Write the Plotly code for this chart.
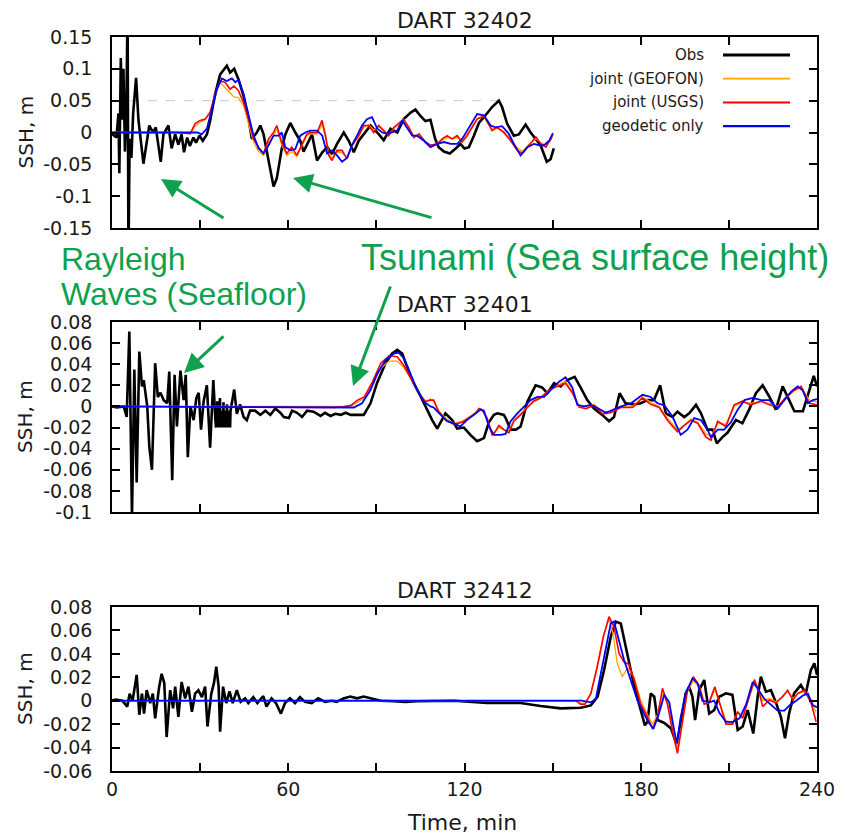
import plotly.graph_objects as go

# ---------------- DATA ----------------
# Panel 1: DART 32402
p1_obs_t = [0, 1.5, 2.2, 2.5, 3.0, 3.5, 3.9, 4.4, 4.9, 5.3, 5.6, 6.0, 6.6, 7.2, 8.2, 9.0, 10.7, 12.7, 14.0, 14.9,
            16.6, 17.5, 19.2, 20.3, 21.5, 22.6, 23.7, 24.5, 25.6, 26.5, 27.7, 28.6, 29.8, 30.9, 32.3, 33.4, 35.1,
            36.8, 39.1, 40.2, 41.6, 43.1, 44.8, 46.5, 47.6, 49.3, 50.5, 51.6, 53.3, 55.0, 56.1, 57.8, 59.0, 60.7,
            62.4, 64.1, 65.2, 66.9, 68.1, 69.8, 71.6, 73.3, 74.9, 76.6, 78.9, 80.6, 82.3, 84.0, 85.7, 88.0, 90.3,
            92.5, 94.8, 97.1, 99.3, 101.6, 103.3, 105.0, 106.7, 108.4, 110.0, 111.2, 113.0, 115.0, 117.0, 118.6,
            120.0, 121.5, 123.2, 124.9, 126.6, 128.3, 129.4, 131.7, 132.8, 134.5, 136.8, 138.5, 140.8, 142.5,
            144.2, 145.9, 148.0, 149.3, 150.4]
p1_obs_v = [-0.002, -0.008, 0.03, -0.064, 0.117, 0.02, 0.1, -0.03, 0.04, 0.2, -0.2, -0.01, -0.04, 0.03, 0.086, 0.02,
            -0.049, 0.011, 0.0, 0.008, -0.046, -0.003, 0.011, -0.025, -0.003, -0.019, -0.003, -0.031, -0.008, -0.021,
            -0.008, -0.016, -0.005, -0.013, -0.003, 0.018, 0.06, 0.091, 0.105, 0.094, 0.1, 0.083, 0.057, 0.021, -0.01,
            0.0, 0.011, -0.003, -0.044, -0.085, -0.072, -0.025, -0.003, 0.015, 0.0, -0.013, -0.03, -0.013, -0.003,
            -0.044, -0.031, -0.023, -0.034, -0.018, 0.0, -0.013, -0.031, -0.013, -0.003, 0.011, 0.0, -0.012, 0.006,
            0.0, 0.021, 0.031, 0.036, 0.026, 0.018, 0.02, -0.01, -0.023, -0.03, -0.033, -0.025, -0.018, -0.025,
            -0.023, -0.005, 0.015, 0.024, 0.034, 0.04, 0.05, 0.04, 0.014, -0.005, -0.003, 0.0125, 0.0, -0.01, -0.02,
            -0.046, -0.042, -0.025]

p1_geo_t = [0, 24, 26.6, 28.3, 30, 31.7, 33.4, 35.1, 36.8, 38.5, 40.2, 41.5, 43, 44.8, 46.5, 48.2, 49.9, 51.6, 53.3,
            55, 56.1, 57.8, 59.5, 61.2, 62.9, 64.6, 66.3, 67.5, 69.8, 71.5, 72.7, 73.8, 74.9, 76.6, 78.3, 80, 81.7,
            84, 85.7, 87.4, 89.1, 90.8, 92.5, 94.2, 95.9, 97.6, 99.3, 101, 102.8, 104.5, 106.7, 108.4, 110.7, 112.4,
            114.1, 115.8, 117.5, 119.2, 120.9, 122.6, 124.3, 126.6, 127.7, 129.4, 131.1, 133.4, 135.7, 138, 139.7,
            142, 144.3, 146, 147.7, 149.4, 150.1]
p1_geo_v = [0, 0, -0.002, 0.01, 0.016, 0.02, 0.03, 0.058, 0.079, 0.07, 0.062, 0.056, 0.055, 0.042, 0.015, -0.015,
            -0.03, -0.036, -0.015, -0.005, 0.005, -0.02, -0.036, -0.03, -0.038, -0.022, -0.005, -0.002, -0.002, 0.012,
            -0.008, -0.032, -0.04, -0.03, -0.032, -0.04, -0.022, -0.006, 0.008, 0.012, 0.004, 0.009, 0.002, -0.004,
            0.006, 0.012, 0.018, 0.01, -0.006, -0.004, -0.014, -0.02, -0.017, -0.012, -0.008, -0.01, -0.008, -0.013,
            -0.003, 0.01, 0.022, 0.025, 0.018, 0.006, 0.007, 0.002, -0.01, -0.024, -0.03, -0.018, -0.01, -0.016,
            -0.02, -0.012, -0.004]

p1_usgs_t = [0, 22, 26.6, 28.3, 30, 31.7, 33.4, 35.1, 36.8, 38.5, 40.2, 41.5, 43, 44.8, 46.5, 48.2, 49.9, 51.6, 53.3,
             55, 56.1, 57.8, 59.5, 61.2, 62.9, 64.6, 66.3, 67.5, 69.8, 71.5, 72.7, 73.8, 74.9, 76.6, 78.3, 80, 81.7,
             84, 85.7, 87.4, 89.1, 90.8, 92.5, 94.2, 95.9, 97.6, 99.3, 101, 102.8, 104.5, 106.7, 108.4, 110.7, 112.4,
             114.1, 115.8, 117.5, 119.2, 120.9, 122.6, 124.3, 126.6, 127.7, 129.4, 131.1, 133.4, 135.7, 138, 139.7,
             142, 144.3, 146, 147.7, 149.4, 150.1]
p1_usgs_v = [0, 0, -0.002, 0.014, 0.019, 0.021, 0.032, 0.06, 0.081, 0.079, 0.068, 0.073, 0.066, 0.047, 0.021, -0.01,
             -0.023, -0.033, -0.01, 0.0, 0.011, -0.016, -0.033, -0.023, -0.036, -0.02, -0.003, 0.0, 0.0, 0.019,
             -0.005, -0.036, -0.044, -0.028, -0.028, -0.041, -0.02, -0.005, 0.011, 0.011, 0.0, 0.011, 0.003, -0.005,
             0.008, 0.014, 0.021, 0.008, -0.008, -0.002, -0.015, -0.02, -0.018, -0.01, -0.005, -0.01, -0.005, -0.015,
             -0.005, 0.008, 0.021, 0.026, 0.016, 0.003, 0.008, 0.0, -0.013, -0.028, -0.033, -0.02, -0.007, -0.018,
             -0.023, -0.01, -0.002]

p1_geod_t = [0, 29, 30.5, 32.3, 34, 35.7, 37.4, 39.1, 40.8, 42, 43.1, 44.8, 46.5, 48.2, 49.9, 51.6, 53.3, 55, 56.7,
             57.8, 59, 60.7, 62.4, 64.1, 65.8, 67.5, 69.8, 71.6, 73.2, 74.9, 76.6, 78.3, 80, 81.7, 83.4, 85.1, 86.8,
             88.5, 90.3, 92, 93.7, 95.4, 97.1, 98.8, 100.5, 102.2, 103.9, 106.2, 108.4, 110.7, 113, 115.3, 117.5,
             119.2, 120.9, 122.6, 124.3, 126.6, 128.9, 130.6, 132.8, 135.1, 136.8, 139.1, 141.4, 143.6, 145.4, 147.1,
             148.8, 150.1]
p1_geod_v = [0, 0, -0.003, 0.006, 0.037, 0.068, 0.085, 0.081, 0.085, 0.079, 0.083, 0.06, 0.027, -0.005, -0.025,
             -0.033, -0.02, -0.005, -0.005, 0.0, -0.023, -0.028, -0.026, -0.005, 0.0, 0.003, 0.003, -0.005, -0.033,
             -0.028, -0.036, -0.046, -0.04, -0.02, -0.005, 0.011, 0.021, 0.024, 0.006, 0.0, -0.002, 0.0, 0.003, 0.019,
             0.008, -0.005, -0.005, -0.013, -0.023, -0.018, -0.015, -0.018, -0.018, -0.01, 0.003, 0.016, 0.029, 0.027,
             0.011, 0.008, 0.01, -0.002, -0.018, -0.036, -0.023, -0.018, -0.02, -0.02, -0.013, -0.001]

# Panel 2: DART 32401
p2_obs_t = [0, 1.7, 4.0, 5.0, 5.9, 6.8, 7.6, 8.4, 9.3, 10.2, 10.8, 12.0, 12.7, 13.6, 14.7, 15.6, 16.5, 17.6, 18.8,
            19.5, 20.5, 21.3, 22.1, 23.3, 24.4, 25.1, 25.8, 26.7, 27.8, 28.7, 29.5, 30.3, 31.2, 32.3, 33.4, 34.5,
            35.2, 35.4, 35.55, 35.7, 35.85, 36.0, 36.15, 36.3, 36.45, 36.6, 36.75, 36.9, 37.05, 37.2, 37.35, 37.5,
            37.65, 37.8, 37.95, 38.1, 38.25, 38.4, 38.55, 38.7, 38.85, 39.0, 39.15, 39.3, 39.45, 39.6, 39.75, 39.9,
            40.05, 40.2, 40.35,
            41.6, 42.5, 43.6, 44.8, 45.9, 47.0, 48.7, 50.5, 52.2, 53.9, 55.6, 57.3, 58.5, 60.2, 61.3, 63.0, 64.7,
            66.4, 68.6, 71.0, 72.5, 74.4, 76.0, 77.9, 79.5, 81.3, 83.5, 85.7, 88.0, 90.2, 93.1, 95.3, 97.1, 98.8,
            100.4, 102.7, 105.0, 107.3, 109.0, 110.7, 112.4, 113.5, 115.8, 117.5, 119.8, 122.0, 124.3, 126.6, 128.3,
            130.0, 131.2, 133.4, 134.0, 135.7, 137.5, 139.1, 141.4, 144.2, 146.4, 148.2, 150.5, 152.7, 155.0, 157.5,
            159.5, 161.8, 164.1, 166.9, 169.2, 170.9, 172.8, 174.8, 177.7, 180.0, 182.3, 184.5, 186.6, 188.5, 190.8,
            192.5, 194.8, 196.5, 198.8, 200.5, 202.7, 204.4, 205.9, 207.8, 209.5, 212.4, 214.6, 216.9, 219.2, 221.5,
            223.8, 226.0, 228.3, 230.0, 232.3, 235.2, 237.4, 238.9, 240.0]
p2_obs_v = [0.0, -0.001, 0.0, -0.01, 0.071, -0.105, 0.035, -0.072, 0.052, 0.019, 0.025, 0.0, -0.038, -0.06, 0.041,
            0.009, 0.013, 0.006, 0.003, 0.033, -0.07, 0.03, -0.019, 0.034, 0.006, 0.03, -0.048, 0.0, -0.013, 0.008,
            0.013, -0.022, 0.005, 0.02, -0.039, 0.025, -0.013,
            -0.02, -0.004, -0.02, 0.005, -0.02, -0.004, -0.02, -0.004, -0.02, 0.008, -0.02, -0.004, -0.02, -0.004,
            -0.02, -0.004, -0.02, 0.004, -0.02, -0.004, -0.02, -0.004, -0.02, -0.004, -0.02, 0.002, -0.02, -0.004,
            -0.02, -0.004, -0.02, -0.004, -0.02, -0.004,
            0.016, -0.007, 0.002, -0.01, -0.013,
            -0.004, -0.004, -0.008, -0.004, -0.008, -0.002, -0.006, -0.01, -0.011, -0.004, -0.006, -0.01, -0.004,
            -0.005, -0.009, -0.006, -0.009, -0.007, -0.008, -0.006, -0.008, -0.008, -0.008, 0.003, 0.022, 0.041, 0.05,
            0.0535, 0.05, 0.038, 0.022, 0.01, -0.003, -0.013, -0.021, -0.013, -0.0065, -0.013, -0.021, -0.02, -0.027,
            -0.033, -0.03, -0.015, -0.008, -0.0065, -0.008, -0.011, -0.022, -0.022, -0.019, 0.0045, 0.02, 0.018,
            0.0125, 0.022, 0.019, 0.025, 0.028, 0.018, 0.006, -0.002, -0.008, -0.014, -0.01, 0.0125, 0.003, 0.002,
            0.003, 0.006, 0.006, 0.02, -0.0065, -0.01, -0.005, -0.01, -0.0065, 0.0015, -0.0065, -0.022, -0.022,
            -0.035, -0.029, -0.025, -0.0128, -0.016, -0.003, 0.0125, 0.02, 0.009, -0.003, 0.019, 0.009, -0.0045,
            -0.0045, 0.0156, 0.029, 0.019]

p2_geo_t = [0, 78, 81.3, 83.6, 85.9, 88.7, 91.5, 94.3, 97.1, 99.3, 101.6, 104.4, 106.7, 108.4, 109.5, 111.2, 113.5,
            116.4, 119.2, 121.5, 123.7, 124.9, 126, 127.7, 129.4, 130, 131.7, 133.4, 135.1, 136.8, 139.1, 141.4,
            143.6, 145.9, 148.7, 151.6, 154.4, 156.7, 159, 161.3, 164.1, 166.9, 169.8, 173.2, 177.2, 180.6, 183.4,
            186.3, 189.1, 192.5, 194.8, 197.1, 199.4, 202.2, 203.9, 206.2, 209, 211.8, 214.6, 217.5, 221, 223.8,
            226.6, 229.5, 232.3, 234.6, 237.4, 240]
p2_geo_v = [0, 0.0, 0.0, 0.004, 0.008, 0.02, 0.036, 0.043, 0.043, 0.037, 0.027, 0.013, 0.005, 0.007, 0.005, -0.004,
            -0.011, -0.016, -0.014, -0.01, -0.006, -0.003, -0.004, -0.012, -0.024, -0.025, -0.02, -0.022, -0.023,
            -0.013, -0.007, 0.0, 0.006, 0.009, 0.015, 0.02, 0.024, 0.014, 0.001, 0.0, 0.002, -0.005, -0.005, 0.0,
            0.0, 0.009, 0.004, 0.0, -0.011, -0.022, -0.018, -0.012, -0.015, -0.026, -0.028, -0.016, -0.017, 0.0,
            0.004, 0.003, 0.005, 0.003, 0.0, 0.008, 0.015, 0.018, 0.006, 0.004]

p2_usgs_t = [0, 76, 79, 81.3, 83.6, 85.9, 88.7, 91.5, 94.3, 97.1, 99.3, 101.6, 104.4, 106.7, 108.4, 109.5, 111.2,
             113.5, 116.4, 119.2, 121.5, 123.7, 124.9, 126, 127.7, 129.4, 130, 131.7, 133.4, 135.1, 136.8, 139.1,
             141.4, 143.6, 145.9, 148.7, 151.6, 154.4, 156.7, 159, 161.3, 164.1, 166.9, 169.8, 173.2, 177.2, 180.6,
             183.4, 186.3, 189.1, 192.5, 194.8, 197.1, 199.4, 202.2, 203.9, 206.2, 209, 211.8, 214.6, 217.5, 221,
             223.8, 226.6, 229.5, 232.3, 234.6, 237.4, 240]
p2_usgs_v = [0, -0.001, 0.0, 0.001, 0.006, 0.009, 0.0235, 0.041, 0.048, 0.047, 0.039, 0.027, 0.013, 0.0045, 0.006,
             0.006, -0.005, -0.0127, -0.017, -0.015, -0.011, -0.007, -0.002, -0.003, -0.011, -0.027, -0.026, -0.018,
             -0.022, -0.025, -0.014, -0.008, -0.001, 0.005, 0.008, 0.0155, 0.019, 0.022, 0.013, -0.0005, -0.002,
             0.001, -0.007, -0.006, -0.001, -0.001, 0.008, 0.002, -0.001, -0.013, -0.024, -0.018, -0.013, -0.016,
             -0.029, -0.032, -0.014, -0.019, 0.0015, 0.005, 0.0015, 0.005, 0.0015, -0.0005, 0.009, 0.0156, 0.019,
             0.003, 0.0015]

p2_geod_t = [0, 78, 82.3, 85.1, 88, 90.3, 93.1, 95.9, 97.6, 99.3, 101.6, 103.9, 106.2, 108.4, 109.5, 111.8, 114.1,
             116.4, 118.6, 120.9, 123.2, 125.5, 126.6, 128.3, 130, 132.3, 134, 135.7, 138, 140.3, 142.5, 144.8, 147.1,
             149.4, 152.2, 154.4, 156.7, 158.4, 160.7, 163, 165.3, 168.1, 170.4, 173.3, 176.7, 180.6, 183.4, 185.7,
             188, 190.8, 193.6, 195.9, 198.2, 200.5, 202.7, 203.9, 206.2, 208.4, 210.7, 213, 215.3, 218.1, 221, 223.8,
             226.6, 228.9, 231.2, 233.4, 235.2, 236.9, 238.6, 240]
p2_geod_v = [0, -0.001, -0.001, 0.003, 0.0156, 0.031, 0.044, 0.05, 0.051, 0.046, 0.031, 0.0156, 0.0045, 0.0, -0.001,
             -0.008, -0.014, -0.016, -0.019, -0.0127, -0.008, -0.003, -0.004, -0.019, -0.027, -0.027, -0.026, -0.014,
             -0.0065, -0.0005, 0.006, 0.009, 0.009, 0.0156, 0.0235, 0.0277, 0.018, 0.0015, 0.0, 0.0015, -0.0015,
             -0.006, -0.003, 0.0, 0.003, 0.011, 0.009, 0.003, 0.001, -0.0096, -0.027, -0.022, -0.011, -0.013, -0.022,
             -0.029, -0.022, -0.022, -0.015, -0.003, 0.006, 0.008, 0.006, 0.006, -0.002, 0.006, 0.014, 0.019, 0.015,
             0.003, 0.006, 0.007]

# Panel 3: DART 32412
p3_obs_t = [0, 1.3, 3.5, 5.2, 6.0, 7.0, 8.4, 9.3, 10.2, 10.9, 11.8, 13.0, 13.9, 14.7, 16.0, 16.9, 17.8, 18.6, 19.8,
            20.8, 21.5, 22.6, 23.7, 24.9, 26.0, 27.2, 28.3, 29.4, 30.6, 31.7, 32.5, 33.8, 34.7, 35.5, 36.3, 36.8,
            37.8, 38.9, 40.0, 41.1, 42.5, 43.8, 45.3, 46.4, 48.1, 49.5, 51.5, 52.6, 54.3, 55.8, 57.5, 58.9, 60.6,
            62.3, 64.0, 65.7, 68.0, 70.2, 72.5, 74.8, 76.5, 78.8, 81.1, 83.4, 85.7, 88.0, 91.4, 95.9, 99.9, 103.9,
            108.4, 116.4, 127.7, 139.1, 145.9, 152.7, 159.5, 163.0, 165.3, 167.5, 169.8, 171.5, 173.2, 175.5, 177.8,
            180.0, 181.4, 182.3, 183.4, 184.6, 185.7, 188.0, 190.3, 192.3, 193.6, 195.3, 196.5, 197.6, 198.5, 199.9,
            201.6, 203.3, 205.0, 206.7, 209.0, 211.2, 213.0, 214.7, 216.4, 218.3, 219.8, 220.9, 222.6, 224.3, 226.0,
            227.7, 229.1, 230.5, 232.2, 234.5, 236.2, 237.9, 239.1, 240.0]
p3_obs_v = [0.0, 0.001, 0.0, -0.005, 0.006, 0.0, 0.022, -0.012, 0.006, -0.011, 0.009, -0.002, 0.006, -0.015, 0.011,
            0.023, 0.015, -0.031, 0.009, -0.0065, 0.012, -0.0137, 0.016, 0.002, 0.012, -0.0094, 0.006, 0.009, 0.003,
            0.012, -0.022, 0.006, 0.015, 0.029, 0.012, -0.0265, 0.012, -0.002, 0.008, -0.002, 0.009, -0.001, 0.002,
            -0.002, 0.003, -0.002, 0.004, -0.005, 0.002, -0.002, -0.011, -0.002, 0.002, -0.002, 0.003, -0.001,
            -0.002, 0.002, -0.001, 0.0, -0.001, 0.002, 0.0035, 0.002, 0.0035, 0.002, 0.0, -0.0005, -0.001, -0.0005,
            -0.0005, 0.0, -0.002, -0.002, -0.0045, -0.0065, -0.006, -0.004, 0.0035, 0.026, 0.0547, 0.0675, 0.066,
            0.0376, 0.012, -0.008, -0.021, -0.018, 0.0063, 0.0034, -0.0165, -0.019, -0.0236, -0.038, -0.017, 0.0063,
            0.012, 0.0034, -0.0165, 0.009, 0.0177, -0.011, -0.008, 0.0034, 0.0063, 0.005, -0.025, -0.022, -0.008,
            -0.028, 0.0034, 0.0205, 0.0077, 0.009, -0.0014, -0.0137, -0.032, -0.011, 0.0063, 0.0134, 0.0063, 0.026,
            0.032, 0.022]

p3_geo_t = [0, 157, 159.5, 161, 163, 165.2, 167.3, 169.2, 170.5, 172, 173.7, 175.5, 177.8, 180.0, 182.3, 184.0,
            185.7, 187.4, 189.1, 190.8, 192.5, 194.2, 195.9, 197.9, 199.9, 201.6, 203.3, 205.2, 206.7, 209.0, 211.3,
            213.0, 214.7, 217.0, 218.7, 220.4, 221.5, 223.8, 226.0, 228.3, 230.0, 231.8, 233.5, 235.7, 238.0, 239.7]
p3_geo_v = [0, 0, -0.002, -0.002, 0.006, 0.03, 0.056, 0.07, 0.058, 0.032, 0.0205, 0.028, 0.02, 0.0, -0.012, -0.02,
            -0.012, 0.006, -0.002, -0.022, -0.04, -0.018, 0.008, 0.017, 0.012, 0.0, -0.002, 0.01, 0.0, -0.017, -0.019,
            -0.01, -0.013, 0.003, 0.016, 0.008, 0.0, 0.002, -0.001, 0.004, 0.008, 0.002, 0.006, 0.008, 0.0, -0.01]

p3_usgs_t = [0, 158, 159.5, 161, 163, 165.2, 167.3, 169.2, 170.9, 172.6, 174.3, 176.0, 177.8, 180.0, 182.3, 184.0,
             185.7, 187.4, 189.1, 190.8, 192.5, 194.2, 195.9, 197.9, 199.9, 201.6, 203.3, 205.2, 206.7, 209.0, 211.3,
             213.0, 214.7, 217.0, 218.7, 220.4, 221.5, 223.8, 226.0, 228.3, 230.0, 231.8, 233.5, 235.7, 238.0, 239.7]
p3_usgs_v = [0, 0, -0.003, -0.003, 0.006, 0.029, 0.0547, 0.0717, 0.063, 0.0405, 0.033, 0.031, 0.0175, -0.003,
             -0.0137, -0.024, -0.0137, 0.0106, -0.003, -0.026, -0.045, -0.019, 0.009, 0.0205, 0.013, -0.003, -0.0014,
             0.012, 0.0, -0.02, -0.02, -0.0094, -0.015, 0.0034, 0.018, 0.0063, -0.005, 0.0006, -0.002, 0.0034, 0.009,
             0.0006, 0.0063, 0.009, -0.002, -0.018]

p3_geod_t = [0, 160, 163, 164.7, 166.4, 168.1, 169.8, 170.9, 172.6, 174.3, 176.6, 178.9, 181.1, 182.8, 184.3, 186.2,
             188.0, 189.7, 191.4, 192.3, 193.6, 195.3, 197.6, 199.3, 201.0, 203.3, 205.0, 206.7, 209.0, 211.3, 213.6,
             215.9, 218.1, 219.8, 222.1, 224.3, 226.6, 228.9, 230.6, 232.9, 235.2, 236.9, 238.6, 240]
p3_geod_v = [0, 0, -0.0014, 0.0015, 0.023, 0.046, 0.066, 0.0675, 0.052, 0.035, 0.0175, 0.0, -0.011, -0.019, -0.024,
             -0.011, 0.005, -0.0014, -0.0256, -0.0364, -0.014, 0.0063, 0.019, 0.015, 0.0, -0.0014, 0.0, -0.01, -0.018,
             -0.018, -0.015, -0.003, 0.016, 0.0105, 0.0015, -0.003, -0.0085, -0.0085, -0.004, 0.0, 0.0045, 0.006,
             -0.004, -0.0055]

panel_titles = ["DART 32402", "DART 32401", "DART 32412"]
series_names = ["Obs", "joint (GEOFON)", "joint (USGS)", "geodetic only"]
series_colors = ["#000000", "#FFA500", "#FF0000", "#0000FF"]
series_widths = [2.6, 1.3, 1.6, 1.8]

x_tickvals = [0, 30, 60, 90, 120, 150, 180, 210, 240]
x_ticktext = ["0", "", "60", "", "120", "", "180", "", "240"]
y1_vals = [-0.15, -0.1, -0.05, 0, 0.05, 0.1, 0.15]
y1_text = ["-0.15", "-0.1", "-0.05", "0", "0.05", "0.1", "0.15"]
y2_vals = [-0.1, -0.08, -0.06, -0.04, -0.02, 0, 0.02, 0.04, 0.06, 0.08]
y2_text = ["-0.1", "-0.08", "-0.06", "-0.04", "-0.02", "0", "0.02", "0.04", "0.06", "0.08"]
y3_vals = [-0.06, -0.04, -0.02, 0, 0.02, 0.04, 0.06, 0.08]
y3_text = ["-0.06", "-0.04", "-0.02", "0", "0.02", "0.04", "0.06", "0.08"]

# ---------------- LAYOUT GEOMETRY ----------------
W, H = 845, 834
ML, MR, MT, MB = 112, 28, 37, 63
PW, PH = W - ML - MR, H - MT - MB


def px(xp):
    return (xp - ML) / PW


def py(yp):
    return (H - MB - yp) / PH


dom1 = [py(228), py(37)]
dom2 = [py(512), py(322)]
dom3 = [py(771), py(607)]

FONT = "DejaVu Sans"
TXT = "#1a1a1a"
GREEN = "#0fa14e"

fig = go.Figure()

panels = [
    ("x", "y", [(p1_obs_t, p1_obs_v), (p1_geo_t, p1_geo_v), (p1_usgs_t, p1_usgs_v), (p1_geod_t, p1_geod_v)]),
    ("x2", "y2", [(p2_obs_t, p2_obs_v), (p2_geo_t, p2_geo_v), (p2_usgs_t, p2_usgs_v), (p2_geod_t, p2_geod_v)]),
    ("x3", "y3", [(p3_obs_t, p3_obs_v), (p3_geo_t, p3_geo_v), (p3_usgs_t, p3_usgs_v), (p3_geod_t, p3_geod_v)]),
]
for xa, ya, data in panels:
    for (t, v), name, col, w in zip(data, series_names, series_colors, series_widths):
        fig.add_trace(go.Scatter(x=t, y=v, mode="lines", name=name, showlegend=False,
                                 line=dict(color=col, width=w), xaxis=xa, yaxis=ya,
                                 hoverinfo="skip"))

axis_common = dict(showline=True, linecolor="black", linewidth=1.6, mirror="allticks",
                   ticks="inside", ticklen=8, tickwidth=1.5, tickcolor="black",
                   showgrid=False, zeroline=False,
                   tickfont=dict(family=FONT, size=19, color=TXT))

xa_common = dict(axis_common, range=[0, 240], tickmode="array", tickvals=x_tickvals, ticktext=x_ticktext,
                 domain=[0, 1])

fig.update_layout(
    width=W, height=H, margin=dict(l=ML, r=MR, t=MT, b=MB, autoexpand=False),
    paper_bgcolor="white", plot_bgcolor="white", showlegend=False,
    xaxis=dict(xa_common, anchor="y", showticklabels=False),
    xaxis2=dict(xa_common, anchor="y2", showticklabels=False),
    xaxis3=dict(xa_common, anchor="y3", showticklabels=True, ticklabelstandoff=0),
    yaxis=dict(axis_common, anchor="x", domain=dom1, range=[-0.15, 0.15], tickmode="array",
               tickvals=y1_vals, ticktext=y1_text, ticklabelstandoff=14),
    yaxis2=dict(axis_common, anchor="x2", domain=dom2, range=[-0.1, 0.08], tickmode="array",
                tickvals=y2_vals, ticktext=y2_text, ticklabelstandoff=14),
    yaxis3=dict(axis_common, anchor="x3", domain=dom3, range=[-0.06, 0.08], tickmode="array",
                tickvals=y3_vals, ticktext=y3_text, ticklabelstandoff=14),
)

ann = []
shapes = []
# panel titles
for title, top in zip(panel_titles, [37, 322, 607]):
    ann.append(dict(text=title, xref="paper", yref="paper", x=px(465), y=py(top - 17),
                    xanchor="center", yanchor="middle", showarrow=False,
                    font=dict(family=FONT, size=22, color=TXT)))
# y axis labels
for dom in [dom1, dom2, dom3]:
    ann.append(dict(text="SSH, m", xref="paper", yref="paper", x=px(25), y=(dom[0] + dom[1]) / 2,
                    xanchor="center", yanchor="middle", textangle=-90, showarrow=False,
                    font=dict(family=FONT, size=20, color=TXT)))
# x axis label
ann.append(dict(text="Time, min", xref="paper", yref="paper", x=px(462), y=py(822),
                xanchor="center", yanchor="middle", showarrow=False,
                font=dict(family=FONT, size=22, color=TXT)))

# legend (text left of line, as in original)
for i, (name, col, w) in enumerate(zip(series_names, series_colors, series_widths)):
    yy = py(55 + i * 23.7)
    ann.append(dict(text=name, xref="paper", yref="paper", x=px(706), y=yy, xanchor="right",
                    yanchor="middle", showarrow=False, font=dict(family=FONT, size=15, color=TXT)))
    shapes.append(dict(type="line", xref="paper", yref="paper", x0=px(723), x1=px(790), y0=yy, y1=yy,
                       line=dict(color=col, width=w + 0.4)))

# faint dashed reference line in top panel
shapes.append(dict(type="line", xref="x", yref="y", x0=0, x1=132, y0=0.05, y1=0.05,
                   line=dict(color="#c8c8c8", width=1, dash="dash"), layer="below"))

# green annotation text
ann.append(dict(text="Rayleigh", xref="paper", yref="paper", x=px(59), y=py(259), xanchor="left",
                yanchor="middle", showarrow=False, font=dict(family="Liberation Sans", size=32, color=GREEN)))
ann.append(dict(text="Waves (Seafloor)", xref="paper", yref="paper", x=px(59), y=py(294), xanchor="left",
                yanchor="middle", showarrow=False, font=dict(family="Liberation Sans", size=32, color=GREEN)))
ann.append(dict(text="Tsunami (Sea surface height)", xref="paper", yref="paper", x=px(359), y=py(257),
                xanchor="left", yanchor="middle", showarrow=False,
                font=dict(family="Liberation Sans", size=36, color=GREEN)))

# green arrows: (head x, head y, tail x, tail y) in pixels
arrows = [(161, 179, 225, 219), (293, 178, 433, 218), (184, 373, 225, 335), (353, 386, 391, 285)]
for hx, hy, tx, ty in arrows:
    ann.append(dict(text="", xref="paper", yref="paper", x=px(hx), y=py(hy), axref="pixel", ayref="pixel",
                    ax=tx - hx, ay=ty - hy, showarrow=True, arrowhead=2, arrowsize=1.3, arrowwidth=3,
                    arrowcolor=GREEN, standoff=0))

fig.update_layout(annotations=ann, shapes=shapes)
fig.write_html("out.html")
